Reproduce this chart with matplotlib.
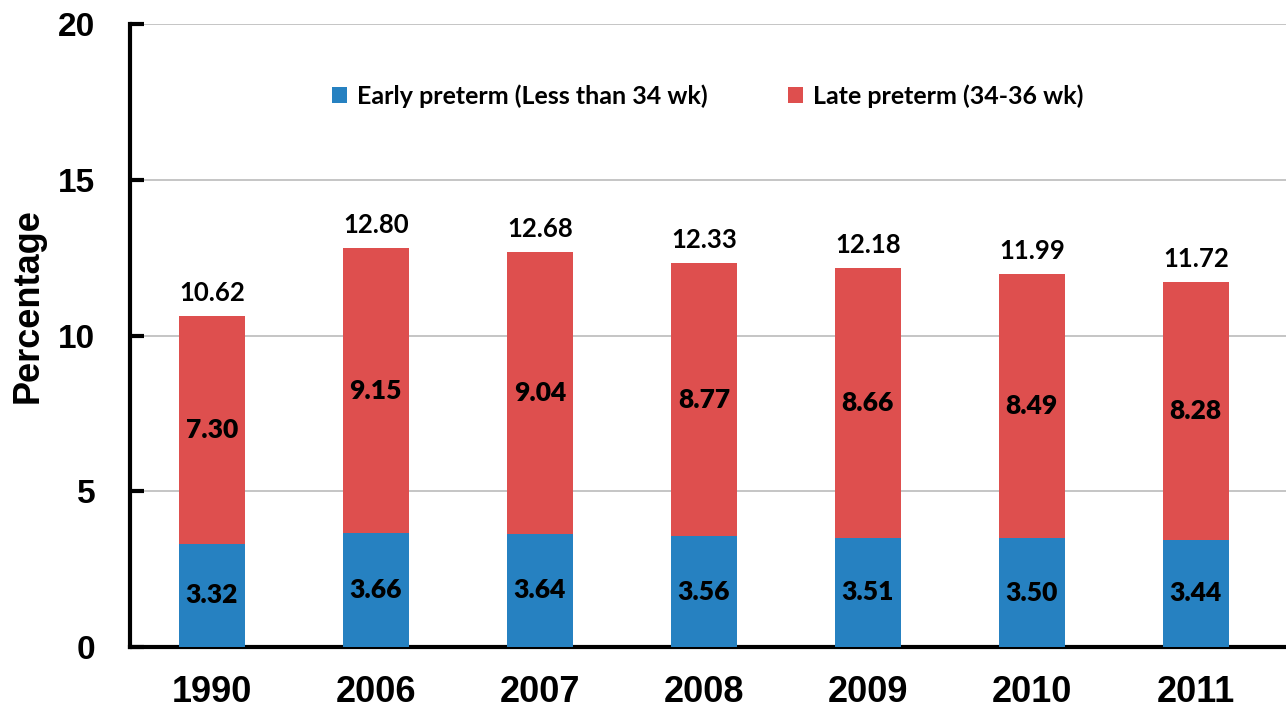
import numpy as np
import matplotlib.pyplot as plt

years = ["1990", "2006", "2007", "2008", "2009", "2010", "2011"]
early = [3.32, 3.66, 3.64, 3.56, 3.51, 3.50, 3.44]
late = [7.30, 9.15, 9.04, 8.77, 8.66, 8.49, 8.28]
totals = [10.62, 12.80, 12.68, 12.33, 12.18, 11.99, 11.72]

blue = "#2681C1"
red = "#DE4F4E"
label_font = "Lato"

fig = plt.figure(figsize=(12.86, 7.11), dpi=100)
ax = fig.add_axes([0.101, 0.09, 0.899, 0.876])

x = np.arange(len(years))
w = 0.4
ax.bar(x, early, w, color=blue, label="Early preterm (Less than 34 wk)", zorder=3)
ax.bar(x, late, w, bottom=early, color=red, label="Late preterm (34-36 wk)", zorder=3)

for i in range(len(years)):
    ax.text(x[i], early[i] / 2, "%.2f" % early[i], ha="center", va="center",
            fontsize=19, fontweight="heavy", family=label_font, zorder=4)
    ax.text(x[i], early[i] + late[i] / 2, "%.2f" % late[i], ha="center", va="center",
            fontsize=19, fontweight="heavy", family=label_font, zorder=4)
    ax.text(x[i], early[i] + late[i] + 0.35, "%.2f" % totals[i], ha="center", va="bottom",
            fontsize=18.5, fontweight="bold", family=label_font, zorder=4)

ax.set_xlim(-0.5, 6.55)
ax.set_ylim(0, 20)
ax.set_yticks([0, 5, 10, 15, 20])
ax.set_xticks(x)
ax.set_xticklabels(years)

ax.yaxis.grid(True, color="#BBBBBB", linewidth=1.2, zorder=0)
ax.set_axisbelow(True)
for s in ["top", "right"]:
    ax.spines[s].set_visible(False)
ax.spines["left"].set_linewidth(3)
ax.spines["bottom"].set_linewidth(3)

ax.tick_params(axis="y", direction="in", length=10, width=3, pad=25,
               labelsize=24)
ax.tick_params(axis="x", length=0, pad=20, labelsize=26)
for lab in ax.get_xticklabels() + ax.get_yticklabels():
    lab.set_fontweight("bold")
    lab.set_family("Liberation Sans")

ax.set_ylabel("Percentage", fontsize=26, fontweight="bold", family="Liberation Sans")
ax.yaxis.set_label_coords(-0.073, 0.549)

ax.legend(loc="upper center", bbox_to_anchor=(0.5, 0.94), ncol=2, frameon=False,
          prop={"family": label_font, "weight": "bold", "size": 18},
          handlelength=0.6, handleheight=0.6, columnspacing=3.2, handletextpad=0.4)

fig.savefig("out.png", dpi=100)
